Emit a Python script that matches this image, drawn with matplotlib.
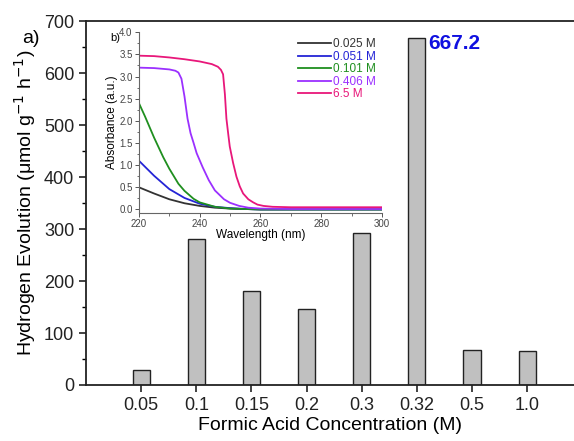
import matplotlib.pyplot as plt
from matplotlib.ticker import MultipleLocator

plt.rcParams['font.family'] = ['Liberation Sans', 'DejaVu Sans']

# Main bar chart data
concentrations = ['0.05', '0.1', '0.15', '0.2', '0.3', '0.32', '0.5', '1.0']
h2_evolution = [29, 280, 181, 147, 292, 667.2, 68, 66]

# Inset absorbance spectra
wl_0025 = [220, 225, 230, 235, 240, 245, 250, 255, 260, 280, 300]
abs_0025 = [0.50, 0.36, 0.23, 0.14, 0.08, 0.04, 0.02, 0.01, 0.0, 0.0, 0.0]

wl_0051 = [220, 225, 230, 235, 240, 245, 250, 255, 260, 280, 300]
abs_0051 = [1.10, 0.76, 0.46, 0.26, 0.13, 0.06, 0.03, 0.01, 0.0, 0.0, 0.0]

wl_0101 = [220, 222, 225, 228, 230, 233, 235, 238, 240, 245, 250, 255, 260, 280, 300]
abs_0101 = [2.40, 2.10, 1.62, 1.18, 0.92, 0.58, 0.42, 0.24, 0.16, 0.06, 0.02, 0.01, 0.0, 0.0, 0.0]

wl_0406 = [220, 225, 230, 232, 233, 234, 235, 236, 237, 238, 239, 241, 243, 245,
           248, 250, 253, 256, 260, 270, 300]
abs_0406 = [3.20, 3.19, 3.16, 3.13, 3.09, 2.95, 2.55, 2.05, 1.72, 1.50, 1.27, 0.95,
            0.66, 0.43, 0.23, 0.15, 0.08, 0.04, 0.02, 0.01, 0.01]

wl_65 = [220, 225, 230, 235, 240, 244, 246, 247, 247.7, 248.3, 248.8, 249.4, 249.9,
         251, 252.1, 253.2, 254.3, 256, 257.6, 259, 261, 264, 270, 300]
abs_65 = [3.47, 3.46, 3.43, 3.39, 3.34, 3.28, 3.22, 3.15, 3.05, 2.60, 2.05, 1.70, 1.42,
          1.05, 0.74, 0.52, 0.36, 0.23, 0.16, 0.11, 0.08, 0.06, 0.05, 0.05]

spectra = [
    (wl_0025, abs_0025, '0.025 M', '#333333'),
    (wl_0051, abs_0051, '0.051 M', '#2424d6'),
    (wl_0101, abs_0101, '0.101 M', '#1f8f1f'),
    (wl_0406, abs_0406, '0.406 M', '#9b30ff'),
    (wl_65, abs_65, '6.5 M', '#e8177a'),
]

fig = plt.figure(figsize=(5.74, 4.41), dpi=100)
ax = fig.add_axes([0.150, 0.127, 0.85, 0.825])

x = list(range(1, len(concentrations) + 1))
ax.bar(x, h2_evolution, width=0.31, color='#c0c0c0', edgecolor='#222222', linewidth=1.0)
ax.set_xlim(0, 8.85)
ax.set_ylim(0, 700)
ax.set_xticks(x)
ax.set_xticklabels(concentrations)
ax.yaxis.set_major_locator(MultipleLocator(100))
ax.yaxis.set_minor_locator(MultipleLocator(50))
ax.tick_params(axis='both', which='major', labelsize=13, direction='out', length=5, width=1.2, colors='#222222')
ax.tick_params(axis='y', which='minor', direction='out', length=3, width=1.0)
ax.spines['right'].set_visible(False)
for s in ['left', 'bottom', 'top']:
    ax.spines[s].set_linewidth(1.3)
    ax.spines[s].set_color('#222222')
ax.set_xlabel('Formic Acid Concentration (M)', fontsize=14, labelpad=2)
ax.set_ylabel('Hydrogen Evolution (\u03bcmol g$^{-1}$ h$^{-1}$)', fontsize=14, labelpad=4)

ax.text(x[5] + 0.2, h2_evolution[5] - 10, '667.2', color='#1010e0', fontsize=15,
        fontweight='bold', ha='left', va='center')
fig.text(0.038, 0.912, 'a)', fontsize=14, ha='left', va='center')

# Inset
ins = fig.add_axes([0.242, 0.517, 0.4235, 0.41])
for wl, ab, lab, col in spectra:
    ins.plot(wl, ab, color=col, linewidth=1.3, label=lab)
ins.set_xlim(220, 300)
ins.set_ylim(-0.08, 4.0)
ins.xaxis.set_major_locator(MultipleLocator(20))
ins.xaxis.set_minor_locator(MultipleLocator(10))
ins.yaxis.set_major_locator(MultipleLocator(0.5))
ins.yaxis.set_minor_locator(MultipleLocator(0.25))
ins.tick_params(axis='both', which='major', labelsize=7, length=3, width=0.7, colors='#555555',
                labelcolor='#444444', pad=1.5)
ins.tick_params(axis='both', which='minor', length=1.8, width=0.6, colors='#555555')
ins.spines['top'].set_visible(False)
ins.spines['right'].set_visible(False)
for s in ['left', 'bottom']:
    ins.spines[s].set_color('#666666')
    ins.spines[s].set_linewidth(0.8)
ins.set_xlabel('Wavelength (nm)', fontsize=8.5, labelpad=0)
ins.set_ylabel('Absorbance (a.u.)', fontsize=8.5, labelpad=1)
ins.text(-0.075, 0.97, 'b)', transform=ins.transAxes, fontsize=8, ha='right', va='center')
leg = ins.legend(loc='upper right', frameon=False, fontsize=8.5, handlelength=2.8,
                 handletextpad=0.15, labelspacing=0.05, borderaxespad=0.1)
for txt, (_, _, _, col) in zip(leg.get_texts(), spectra):
    txt.set_color(col)

fig.savefig('out.png', dpi=100)
